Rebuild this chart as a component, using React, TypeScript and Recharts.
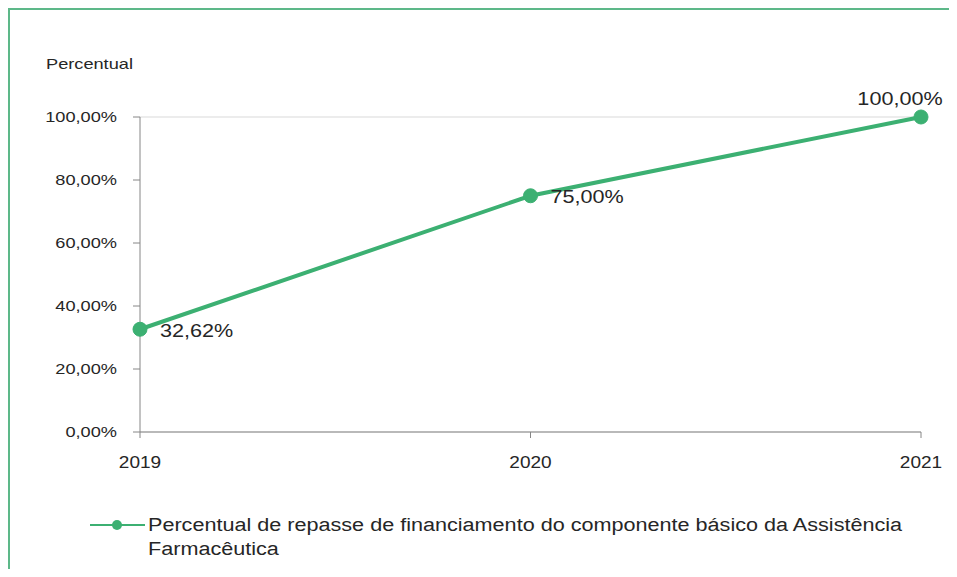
import { LineChart, Line, XAxis, YAxis, CartesianGrid, Legend, LabelList, Label } from 'recharts'

const anos = ['2019', '2020', '2021']
const percentual = [32.62, 75.0, 100.0]
const yTicks = [0, 20, 40, 60, 80, 100]
const serieNome = 'Percentual de repasse de financiamento do componente básico da Assistência Farmacêutica'

const data = anos.map((ano, i) => ({ ano, valor: percentual[i] }))

const fmt = (v: number) => v.toFixed(2).replace('.', ',') + '%'

const VERDE = '#3cb072'
const TXT = '#262626'
const FONT = '"Liberation Sans", Arial, sans-serif'

// the source picture is stretched sideways, so texts get a small scaleX
function Stretched({ x, y, sx, size, anchor, children }: any) {
  return (
    <g transform={`translate(${x},${y}) scale(${sx},1)`}>
      <text x={0} y={0} fontSize={size} fontFamily={FONT} fill={TXT} textAnchor={anchor} dominantBaseline="central">
        {children}
      </text>
    </g>
  )
}

function YTick(props: any) {
  const { x, y, payload } = props
  return <Stretched x={x} y={y} sx={1.3} size={14} anchor="end">{fmt(payload.value)}</Stretched>
}

function XTick(props: any) {
  const { x, y, payload } = props
  return <Stretched x={x} y={y + 8} sx={1.12} size={17} anchor="middle">{payload.value}</Stretched>
}

function DataLabel(props: any) {
  const { x, y, value, index } = props
  const last = index === data.length - 1
  return (
    <Stretched x={last ? x - 21 : x + 20} y={last ? y - 18 : y + 1} sx={1.2} size={18} anchor={last ? 'middle' : 'start'}>
      {fmt(value)}
    </Stretched>
  )
}

function LegendBox() {
  return (
    <div style={{ display: 'flex', alignItems: 'flex-start', fontFamily: FONT, fontSize: 18, color: TXT, height: 50 }}>
      <svg width={60} height={22} style={{ flex: 'none', marginTop: 1 }}>
        <line x1={2} y1={11} x2={57} y2={11} stroke={VERDE} strokeWidth={2} />
        <circle cx={29} cy={11} r={5} fill={VERDE} />
      </svg>
      <div style={{ width: 700, lineHeight: '24px', transform: 'scaleX(1.2)', transformOrigin: 'left top', whiteSpace: 'nowrap' }}>
        Percentual de repasse de financiamento do componente básico da Assistência
        <br />
        Farmacêutica
      </div>
    </div>
  )
}

export default function App() {
  return (
    <div style={{ width: 941, height: 561, overflow: 'hidden' }}>
      <div style={{ width: 1000, height: 600, borderTop: '2px solid #5db889', borderLeft: '2px solid #5db889', background: '#fff' }}>
        <LineChart
          width={939}
          height={559}
          data={data}
          margin={{ top: 107, right: 28, bottom: 57, left: 0 }}
          style={{ outline: 'none' }}
        >
          <CartesianGrid horizontal vertical={false} stroke="#d9d9d9" />
          <XAxis
            dataKey="ano"
            axisLine={{ stroke: '#868686' }}
            tickLine={{ stroke: '#868686' }}
            tickSize={6}
            tickMargin={16}
            height={30}
            tick={XTick}
          />
          <YAxis
            yAxisId="l"
            domain={[0, 100]}
            ticks={yTicks}
            width={130}
            axisLine={{ stroke: '#868686' }}
            tickLine={{ stroke: '#868686' }}
            tickSize={7}
            tickMargin={16}
            tick={YTick}
          >
            <Label
              content={(p: any) => (
                <Stretched x={p.viewBox.x + 36} y={p.viewBox.y - 53} sx={1.3} size={14} anchor="start">
                  Percentual
                </Stretched>
              )}
            />
          </YAxis>
          <YAxis yAxisId="r" orientation="right" width={0} tick={false} tickLine={false} axisLine={{ stroke: '#868686' }} domain={[0, 100]} />
          <Line
            yAxisId="l"
            dataKey="valor"
            name={serieNome}
            stroke={VERDE}
            strokeWidth={4}
            dot={{ r: 7, fill: VERDE, stroke: VERDE, strokeWidth: 1 }}
            isAnimationActive={false}
          >
            <LabelList dataKey="valor" content={DataLabel} />
          </Line>
          <Legend verticalAlign="bottom" content={LegendBox} wrapperStyle={{ left: 78, bottom: 'auto', top: 503 }} />
        </LineChart>
      </div>
    </div>
  )
}
